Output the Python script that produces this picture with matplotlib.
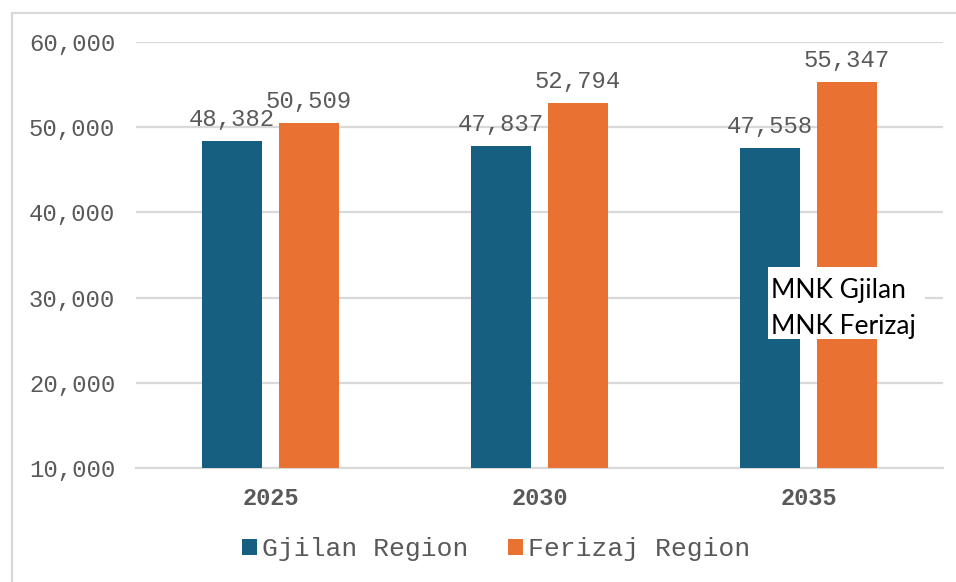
import numpy as np
import matplotlib
matplotlib.use("Agg")
import matplotlib.pyplot as plt
from matplotlib.lines import Line2D
from matplotlib.patches import Rectangle
from matplotlib.ticker import FuncFormatter

# data
years = ["2025", "2030", "2035"]
gjilan = [48382, 47837, 47558]
ferizaj = [50509, 52794, 55347]
series_names = ["Gjilan Region", "Ferizaj Region"]

blue = "#175F80"
orange = "#E97132"
grey_txt = "#595959"
mono = "Liberation Mono"

fig = plt.figure(figsize=(9.56, 5.82), dpi=100)
ax = fig.add_axes([136 / 956, 1 - 468 / 582, 807 / 956, 426 / 582])

x = np.arange(len(years))
w = 0.223
off = 0.143
b1 = ax.bar(x - off, gjilan, w, color=blue, label=series_names[0], zorder=3)
b2 = ax.bar(x + off, ferizaj, w, color=orange, label=series_names[1], zorder=3)

for bars, vals in [(b1, gjilan), (b2, ferizaj)]:
    for r, v in zip(bars, vals):
        ax.annotate(f"{v:,}", (r.get_x() + r.get_width() / 2, v),
                    xytext=(0, 10), textcoords="offset pixels",
                    ha="center", va="bottom", fontsize=17.2,
                    family=mono, color=grey_txt, zorder=4)

ax.set_xlim(-0.5, 2.5)
ax.set_ylim(10000, 60000)
ax.set_yticks(np.arange(10000, 60001, 10000))
ax.yaxis.set_major_formatter(FuncFormatter(lambda v, p: f"{int(v):,}"))
ax.grid(axis="y", color="#D9D9D9", linewidth=1.6, zorder=0)
for s in ["top", "right", "left"]:
    ax.spines[s].set_visible(False)
ax.spines["bottom"].set_color("#D9D9D9")
ax.spines["bottom"].set_linewidth(1.6)
ax.tick_params(axis="both", length=0)
ax.tick_params(axis="y", pad=15)
ax.tick_params(axis="x", pad=14)
ax.set_xticks(x)
ax.set_xticklabels(years, family=mono, fontweight="bold", fontsize=17, color=grey_txt)
for lab in ax.get_yticklabels():
    lab.set_family(mono)
    lab.set_fontsize(17.2)
    lab.set_color(grey_txt)

# overlapping text box on the 2035 bars
fig.add_artist(Rectangle((768 / 956, 1 - 339 / 582), 157 / 956, 72 / 582,
                         transform=fig.transFigure, facecolor="white",
                         edgecolor="none", zorder=9))
fig.text(771 / 956, 1 - 298 / 582, "MNK Gjilan", family="Lato",
         fontsize=19, color="black", ha="left", va="baseline", zorder=10)
fig.text(771 / 956, 1 - 334 / 582, "MNK Ferizaj", family="Lato",
         fontsize=19, color="black", ha="left", va="baseline", zorder=10)

leg = fig.legend(loc="center", bbox_to_anchor=(0.519, 1 - 549 / 582), ncol=2,
                 frameon=False, handlelength=0.55, handleheight=0.55,
                 handletextpad=0.2, columnspacing=1.5,
                 prop={"family": mono, "size": 19})
for t in leg.get_texts():
    t.set_color(grey_txt)

# outer chart border
fig.add_artist(Line2D([12 / 956, 12 / 956], [0, 1 - 13 / 582], color="#D9D9D9", linewidth=1.6))
fig.add_artist(Line2D([12 / 956, 1], [1 - 13 / 582, 1 - 13 / 582], color="#D9D9D9", linewidth=1.6))

fig.savefig("out.png", dpi=100)
